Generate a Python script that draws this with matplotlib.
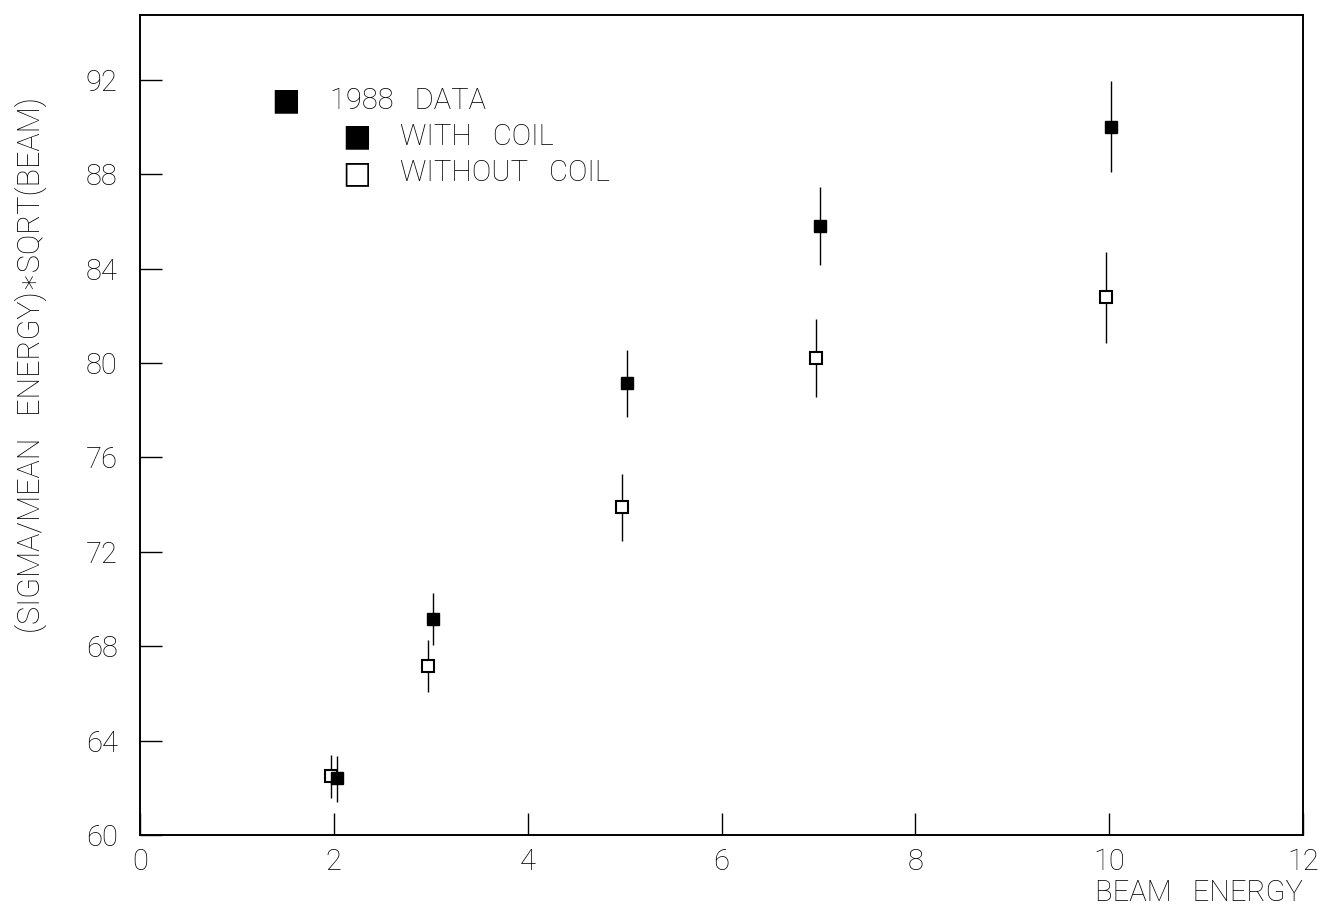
import matplotlib
matplotlib.use("Agg")
import matplotlib.pyplot as plt

# beam energies (slightly offset in the original so bars don't overlap)
e_coil = [2.03, 3.02, 5.02, 7.02, 10.02]
res_coil = [62.4, 69.15, 79.15, 85.8, 90.0]
err_coil_lo = [1.0, 1.1, 1.45, 1.65, 1.9]
err_coil_hi = [0.95, 1.1, 1.4, 1.65, 1.95]

e_nocoil = [1.97, 2.97, 4.97, 6.97, 9.97]
res_nocoil = [62.5, 67.15, 73.9, 80.2, 82.8]
err_nocoil_lo = [0.95, 1.1, 1.45, 1.65, 1.95]
err_nocoil_hi = [0.9, 1.1, 1.4, 1.65, 1.9]

xticks = [0, 2, 4, 6, 8, 10, 12]
yticks = [60, 64, 68, 72, 76, 80, 84, 88, 92]

plt.rcParams["font.family"] = ["Roboto", "DejaVu Sans"]
plt.rcParams["font.weight"] = "light"
fs = 21

fig = plt.figure(figsize=(13.24, 9.19), dpi=100)
ax = fig.add_axes([0.1057, 0.0914, 0.8785, 0.8923])

ax.errorbar(e_nocoil, res_nocoil, yerr=[err_nocoil_lo, err_nocoil_hi], fmt="s",
            mfc="white", mec="black", mew=1.5, ms=8, ecolor="black", elinewidth=1,
            capsize=0, zorder=3)
ax.errorbar(e_coil, res_coil, yerr=[err_coil_lo, err_coil_hi], fmt="s",
            mfc="black", mec="black", ms=8.5, ecolor="black", elinewidth=1,
            capsize=0, zorder=4)

ax.set_xlim(0, 12)
ax.set_ylim(60, 94.75)
ax.set_xticks(xticks)
ax.set_yticks(yticks)
ax.tick_params(direction="in", length=16, width=1, labelsize=fs, pad=9,
               top=False, right=False)
ax.tick_params(axis="y", pad=16)
for s in ax.spines.values():
    s.set_linewidth(1.4)

# legend drawn as text
sym = dict(transform=ax.transAxes, fontsize=22, ha="center", va="center",
           family=["DejaVu Sans"], fontweight="normal")
lab = dict(transform=ax.transAxes, fontsize=fs, va="center")
ax.text(0.1255, 0.895, "\u25A0", **sym)
ax.text(0.163, 0.895, "1988   DATA", **lab)
ax.text(0.186, 0.851, "\u25A0", **sym)
ax.text(0.2236, 0.851, "WITH   COIL", **lab)
ax.text(0.186, 0.807, "\u25A1", **sym)
ax.text(0.2236, 0.807, "WITHOUT   COIL", **lab)

fig.text(0.984, 0.028, "BEAM   ENERGY", fontsize=fs, ha="right", va="center")
fig.text(0.023, 0.603, "(SIGMA/MEAN   ENERGY)\u2217SQRT(BEAM)", fontsize=22,
         rotation=90, ha="center", va="center")

fig.savefig("out.png", dpi=100)
